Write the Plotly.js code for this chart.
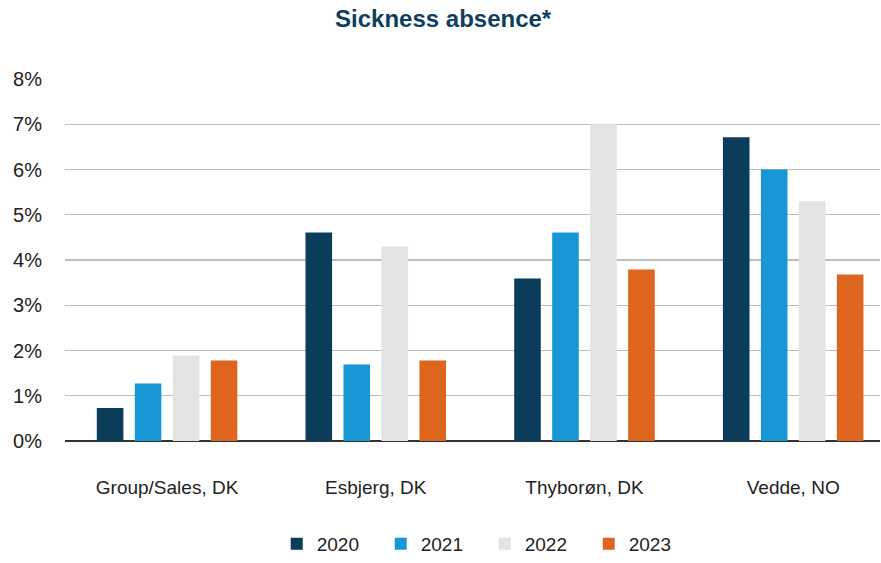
<!DOCTYPE html>
<html>
<head>
<meta charset="utf-8">
<script src="https://cdn.plot.ly/plotly-3.0.1.min.js"></script>
<style>html,body{margin:0;padding:0;background:#fff;}#chart{width:881px;height:563px;}</style>
</head>
<body>
<div id="chart"></div>
<script>
const categories = ["Group/Sales, DK", "Esbjerg, DK", "Thyborøn, DK", "Vedde, NO"];
const years = ["2020", "2021", "2022", "2023"];
const values2020 = [0.73, 4.61, 3.59, 6.71];
const values2021 = [1.27, 1.69, 4.61, 6.0];
const values2022 = [1.89, 4.30, 7.0, 5.3];
const values2023 = [1.78, 1.78, 3.79, 3.68];
const yTickValues = [0, 1, 2, 3, 4, 5, 6, 7, 8];
const yTickLabels = ["0%", "1%", "2%", "3%", "4%", "5%", "6%", "7%", "8%"];
const colors = ["#0b3c5a", "#1797d6", "#e3e3e3", "#dd651e"];

const series = [values2020, values2021, values2022, values2023];
const traces = series.map((vals, i) => ({
  type: "bar",
  name: years[i],
  x: categories,
  y: vals,
  marker: {color: colors[i]},
  hoverinfo: "skip"
}));

const FONT = "Liberation Sans, Arial, Helvetica, sans-serif";

const layout = {
  width: 881,
  height: 563,
  paper_bgcolor: "#fff",
  plot_bgcolor: "#fff",
  font: {family: FONT, color: "#222", size: 19},
  title: {
    text: "<b>Sickness absence*</b>",
    x: 0.503, xref: "container", xanchor: "center",
    y: 0.967, yref: "container", yanchor: "middle",
    font: {size: 24, color: "#0f3f5e", family: FONT}
  },
  margin: {l: 65, r: 1, t: 79, b: 122, autoexpand: false},
  barmode: "group",
  bargap: 0.272,
  bargroupgap: 0.3,
  xaxis: {
    type: "category",
    range: [-0.489, 3.416],
    showgrid: false,
    showline: false,
    zeroline: false,
    ticks: "",
    ticklabelstandoff: 33,
    tickfont: {size: 19, color: "#222"},
    fixedrange: true
  },
  yaxis: {
    range: [0, 8],
    tickvals: yTickValues,
    ticktext: yTickLabels,
    showgrid: true,
    gridcolor: "#bdbdbd",
    gridwidth: 1.3,
    zeroline: true,
    zerolinecolor: "#333",
    zerolinewidth: 2,
    ticks: "",
    ticklabelstandoff: 22,
    tickfont: {size: 20, color: "#222"},
    fixedrange: true
  },
  showlegend: true,
  legend: {
    orientation: "h",
    x: 0.515, xanchor: "center", xref: "paper",
    y: 0, yanchor: "bottom", yref: "container",
    entrywidth: 59, entrywidthmode: "pixels",
    font: {size: 19, color: "#222"},
    traceorder: "normal"
  }
};

Plotly.newPlot("chart", traces, layout, {displayModeBar: false, staticPlot: true});
</script>
</body>
</html>
